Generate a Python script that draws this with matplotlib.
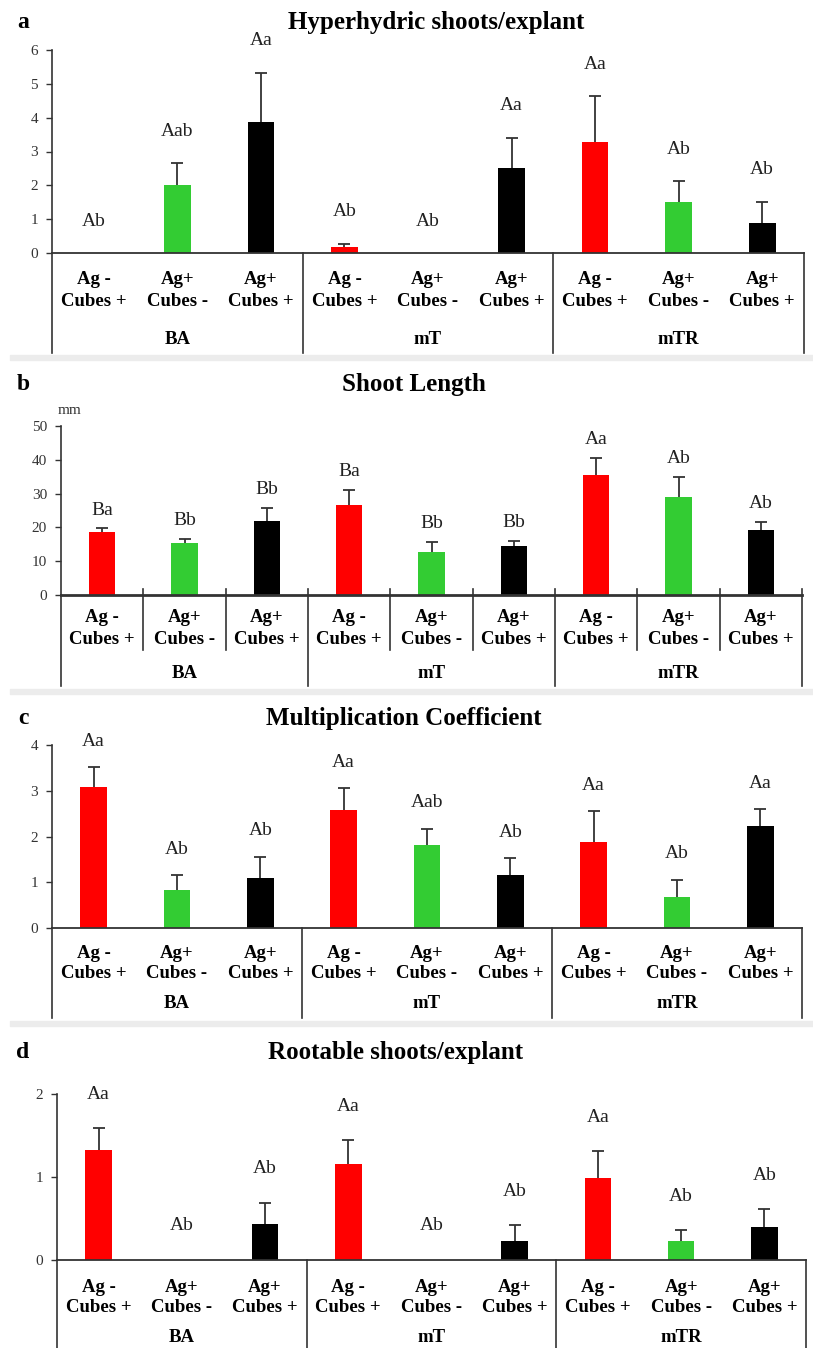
import matplotlib
matplotlib.use('Agg')
import matplotlib.pyplot as plt
from matplotlib.patches import Rectangle

plt.rcParams['font.family'] = ['Liberation Serif', 'DejaVu Serif']

W, H = 813, 1348

# categories
ag_labels = ['Ag -', 'Ag+', 'Ag+', 'Ag -', 'Ag+', 'Ag+', 'Ag -', 'Ag+', 'Ag+']
cube_labels = ['Cubes +', 'Cubes -', 'Cubes +', 'Cubes +', 'Cubes -', 'Cubes +', 'Cubes +', 'Cubes -', 'Cubes +']
groups = ['BA', 'mT', 'mTR']

# a - hyperhydric shoots/explant
hyper_mean = [0, 2.0, 3.88, 0.18, 0, 2.5, 3.29, 1.51, 0.89]
hyper_err = [0, 0.65, 1.45, 0.10, 0, 0.9, 1.35, 0.61, 0.62]
hyper_letters = ['Ab', 'Aab', 'Aa', 'Ab', 'Ab', 'Aa', 'Aa', 'Ab', 'Ab']

# b - shoot length (mm)
length_mean = [18.6, 15.3, 21.8, 26.7, 12.7, 14.4, 35.6, 29.0, 19.3]
length_err = [1.2, 1.3, 4.0, 4.5, 3.0, 1.7, 5.0, 6.0, 2.3]
length_letters = ['Ba', 'Bb', 'Bb', 'Ba', 'Bb', 'Bb', 'Aa', 'Ab', 'Ab']

# c - multiplication coefficient
mult_mean = [3.09, 0.82, 1.10, 2.58, 1.82, 1.15, 1.89, 0.68, 2.23]
mult_err = [0.42, 0.33, 0.46, 0.47, 0.35, 0.38, 0.66, 0.37, 0.37]
mult_letters = ['Aa', 'Ab', 'Ab', 'Aa', 'Aab', 'Ab', 'Aa', 'Ab', 'Aa']

# d - rootable shoots/explant
root_mean = [1.33, 0, 0.43, 1.16, 0, 0.23, 0.99, 0.23, 0.40]
root_err = [0.26, 0, 0.26, 0.28, 0, 0.19, 0.32, 0.13, 0.21]
root_letters = ['Aa', 'Ab', 'Ab', 'Aa', 'Ab', 'Ab', 'Aa', 'Ab', 'Ab']

panels = [
    dict(tag='a', title='Hyperhydric shoots/explant', mean=hyper_mean, err=hyper_err,
         letters=hyper_letters, ymax=6, step=1),
    dict(tag='b', title='Shoot Length', mean=length_mean, err=length_err,
         letters=length_letters, ymax=50, step=10),
    dict(tag='c', title='Multiplication Coefficient', mean=mult_mean, err=mult_err,
         letters=mult_letters, ymax=4, step=1),
    dict(tag='d', title='Rootable shoots/explant', mean=root_mean, err=root_err,
         letters=root_letters, ymax=2, step=1),
]

# pixel layout: left, right, top, zero, row1, row2, row3, bottom, title_y, title_x, letter offset
layout = [
    (52, 804, 50, 253, 279, 301, 339, 353, 22, 436, 32),
    (61, 802, 426, 595, 618, 639, 673, 686, 385, 414, 18),
    (52, 802, 745, 928, 953, 973, 1003, 1018, 718, 404, 26),
    (57, 806, 1094, 1260, 1288, 1307, 1338, 1348, 1053, 396, 34),
]
bands = [355, 689, 1021]

colors = ['#ff0000', '#33cc33', '#000000']

fig = plt.figure(figsize=(W / 100, H / 100), dpi=100)

for yb in bands:
    fig.patches.append(Rectangle((10 / W, 1 - (yb + 5) / H), 1 - 10 / W, 5 / H,
                                 transform=fig.transFigure, color='#ececec', zorder=0))

for p, (l, r, top, zero, row1, row2, row3, bot, ty, tx, off) in zip(panels, layout):
    ax = fig.add_axes([l / W, 1 - zero / H, (r - l) / W, (zero - top) / H])
    ax.set_xlim(-0.5, 8.5)
    ax.set_ylim(0, p['ymax'])
    for s in ['top', 'right']:
        ax.spines[s].set_visible(False)
    ax.spines['left'].set_color('#333333')
    ax.spines['bottom'].set_color('#333333')
    ax.spines['left'].set_linewidth(1.2)
    ax.spines['bottom'].set_linewidth(2.0 if p['tag'] == 'b' else 1.3)
    ax.set_xticks([])
    ax.set_yticks(range(0, p['ymax'] + 1, p['step']))
    ax.tick_params(axis='y', direction='out', length=4, width=1, labelsize=11,
                   colors='#333333', pad=6)

    x = list(range(9))
    ax.bar(x, p['mean'], width=0.32, color=[colors[i % 3] for i in x], zorder=2)
    xe = [i for i in x if p['err'][i] > 0]
    eb = ax.errorbar(xe, [p['mean'][i] for i in xe],
                     yerr=[[0] * len(xe), [p['err'][i] for i in xe]],
                     fmt='none', ecolor='#333333', elinewidth=1.3, capsize=4, capthick=1.3,
                     zorder=3)
    eb[1][0].set_visible(False)  # no cap at the bar top
    for i in x:
        ax.annotate(p['letters'][i], (i, p['mean'][i] + p['err'][i]), xytext=(0, off),
                    textcoords='offset pixels', ha='center', va='center',
                    fontsize=14, color='#222222', annotation_clip=False)

    # table below the axis
    tr = ax.get_xaxis_transform()

    def fy(py):
        return (zero - py) / (zero - top)

    start = fy(589) if p['tag'] == 'b' else 0
    for xv in [-0.5, 2.5, 5.5, 8.5]:
        ax.plot([xv, xv], [start if xv != -0.5 else 0, fy(bot)], color='#333333', lw=1.2,
                transform=tr, clip_on=False)
    if p['tag'] == 'b':
        for xv in [0.5, 1.5, 3.5, 4.5, 6.5, 7.5]:
            ax.plot([xv, xv], [fy(589), fy(650)], color='#333333', lw=1.2,
                    transform=tr, clip_on=False)
    for i in x:
        ax.text(i, fy(row1), ag_labels[i], transform=tr, ha='center', va='center',
                fontsize=13.5, fontweight='bold')
        ax.text(i, fy(row2), cube_labels[i], transform=tr, ha='center', va='center',
                fontsize=13.5, fontweight='bold')
    for g, name in enumerate(groups):
        ax.text(3 * g + 1, fy(row3), name, transform=tr, ha='center', va='center',
                fontsize=13.5, fontweight='bold')

    fig.text(tx / W, 1 - ty / H, p['title'], ha='center', va='center',
             fontsize=18, fontweight='bold')
    fig.text(23 / W, 1 - ty / H, p['tag'], ha='center', va='center',
             fontsize=17, fontweight='bold')
    if p['tag'] == 'b':
        fig.text(70 / W, 1 - 410 / H, 'mm', ha='center', va='center', fontsize=11,
                 color='#333333')

fig.savefig('out.png', dpi=100)
